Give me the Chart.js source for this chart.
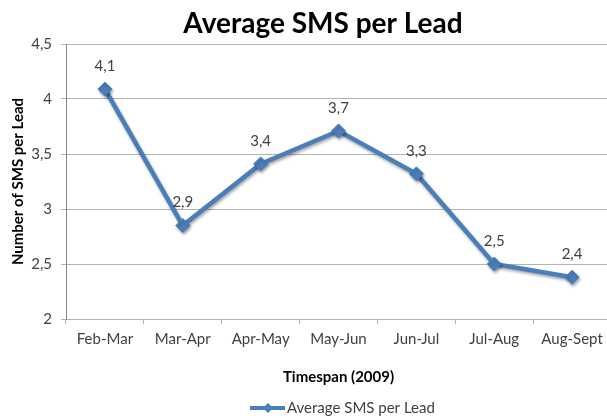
<!DOCTYPE html>
<html><head><meta charset="utf-8">
<script src="https://cdn.jsdelivr.net/npm/chart.js@4"></script>
<style>html,body{margin:0;padding:0;background:#fff;overflow:hidden}#wrap{width:607px;height:418px;overflow:hidden;position:relative}canvas{position:absolute;left:0;top:0}</style>
</head><body><div id="wrap"><canvas id="c" width="619" height="418"></canvas></div>
<script>
const chartTitle = "Average SMS per Lead";
const seriesName = "Average SMS per Lead";
const categories = ["Feb-Mar","Mar-Apr","Apr-May","May-Jun","Jun-Jul","Jul-Aug","Aug-Sept"];
const smsPerLead = [4.09, 2.85, 3.41, 3.71, 3.32, 2.50, 2.38];
const yTicks = [2, 2.5, 3, 3.5, 4, 4.5];
const xAxisTitle = "Timespan (2009)";
const yAxisTitle = "Number of SMS per Lead";

const FONT = "Lato, 'Liberation Sans', sans-serif";
const LINE = "#4A7EBB";
const fmt = v => v.toFixed(1).replace('.', ',');
const fmtTick = v => (Number.isInteger(v) ? String(v) : String(v).replace('.', ','));

const shadowPlugin = {
  id: 'shadow',
  beforeDatasetsDraw(chart) {
    const ctx = chart.ctx; ctx.save();
    ctx.shadowColor = 'rgba(0,0,0,0.35)'; ctx.shadowBlur = 3; ctx.shadowOffsetX = 1; ctx.shadowOffsetY = 2;
  },
  afterDatasetsDraw(chart) { chart.ctx.restore(); }
};

const decorPlugin = {
  id: 'decor',
  afterDraw(chart) {
    const ctx = chart.ctx;
    ctx.save();
    ctx.fillStyle = '#000';
    ctx.font = "bold 28px " + FONT;
    ctx.textAlign = 'center'; ctx.textBaseline = 'middle';
    ctx.fillText(chartTitle, 323, 24);
    const meta = chart.getDatasetMeta(0);
    ctx.font = "15px " + FONT; ctx.fillStyle = '#404040';
    meta.data.forEach((pt, i) => {
      ctx.fillText(fmt(smsPerLead[i]), pt.x, pt.y - 23);
    });
    const ly = 408, lx = 250;
    ctx.strokeStyle = LINE; ctx.lineWidth = 4;
    ctx.beginPath(); ctx.moveTo(lx, ly); ctx.lineTo(lx + 35, ly); ctx.stroke();
    ctx.fillStyle = LINE;
    ctx.beginPath(); ctx.moveTo(lx + 18, ly - 5); ctx.lineTo(lx + 23, ly); ctx.lineTo(lx + 18, ly + 5); ctx.lineTo(lx + 13, ly); ctx.closePath(); ctx.fill();
    ctx.fillStyle = '#404040'; ctx.font = "15px " + FONT; ctx.textAlign = 'left';
    ctx.fillText(seriesName, lx + 37, ly);
    ctx.restore();
  }
};

new Chart(document.getElementById('c'), {
  type: 'line',
  data: {
    labels: categories,
    datasets: [{
      label: seriesName,
      data: smsPerLead,
      borderColor: LINE,
      backgroundColor: LINE,
      borderWidth: 4.5,
      pointStyle: 'rectRot',
      pointRadius: 7,
      pointBorderWidth: 1,
      pointBackgroundColor: LINE,
      pointBorderColor: LINE,
      tension: 0
    }]
  },
  plugins: [shadowPlugin, decorPlugin],
  options: {
    responsive: false,
    animation: false,
    layout: { padding: { top: 44, right: 0, left: 0, bottom: 0 } },
    plugins: { legend: { display: false }, title: { display: false }, tooltip: { enabled: false } },
    scales: {
      x: {
        offset: true,
        afterFit(s) { s.height = 99; },
        grid: { offset: true, drawOnChartArea: false, drawTicks: true, tickLength: 5, color: '#B3B3B3' },
        border: { display: true, color: '#B3B3B3' },
        ticks: { color: '#404040', font: { family: FONT, size: 15 }, padding: 6, maxRotation: 0, autoSkip: false },
        title: { display: true, text: xAxisTitle, color: '#000', font: { family: FONT, size: 15, weight: 'bold' }, padding: { bottom: 32 } }
      },
      y: {
        min: 2, max: 4.5,
        afterFit(s) { s.width = 66; },
        afterBuildTicks(s) { s.ticks = yTicks.map(v => ({ value: v })); },
        grid: { color: '#B3B3B3', tickLength: 5 },
        border: { display: true, color: '#868686' },
        ticks: { color: '#404040', font: { family: FONT, size: 15 }, padding: 9, callback: v => fmtTick(v) },
        title: { display: true, text: yAxisTitle, color: '#000', font: { family: FONT, size: 15, weight: 'bold' }, padding: { top: 9 } }
      }
    }
  }
});
</script></body></html>
